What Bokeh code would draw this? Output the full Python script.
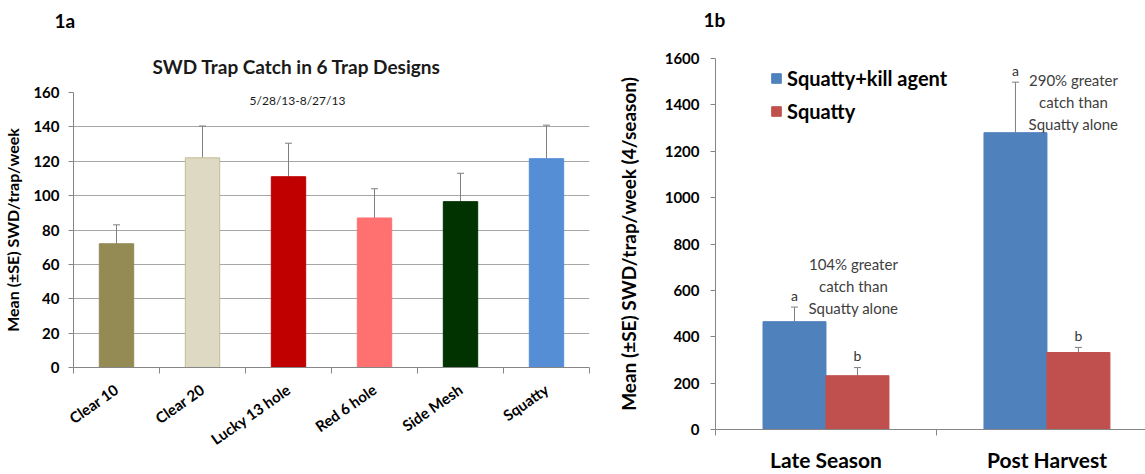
import math
from bokeh.plotting import figure
from bokeh.models import (Range1d, FixedTicker, Whisker, TeeHead, ColumnDataSource,
                          Label, Legend, LegendItem, Title)
from bokeh.layouts import row
from bokeh.embed import file_html
from bokeh.resources import INLINE
from bokeh.core.properties import value

FONT = "Lato"

# ---------------- data: 1a ----------------
designs = ["Clear 10", "Clear 20", "Lucky 13 hole", "Red 6 hole", "Side Mesh", "Squatty"]
design_means = [72, 122, 111, 87, 96.5, 121.5]
design_se = [11, 18.5, 19.5, 17, 16.5, 19.5]
design_colors = ["#948A54", "#DDD9C3", "#C00000", "#FF7171", "#003300", "#558ED5"]
design_edges = ["#948A54", "#C4BD97", "#C00000", "#FF7171", "#003300", "#558ED5"]
y1_ticks = [0, 20, 40, 60, 80, 100, 120, 140, 160]

# ---------------- data: 1b ----------------
seasons = ["Late Season", "Post Harvest"]
kill_means = [465, 1280]
kill_se = [63, 218]
squatty_means = [232, 332]
squatty_se = [35, 22]
kill_letters = ["a", "a"]
squatty_letters = ["b", "b"]
pct_notes = [["104% greater", "catch than", "Squatty alone"],
             ["290% greater", "catch than", "Squatty alone"]]
y2_ticks = [0, 200, 400, 600, 800, 1000, 1200, 1400, 1600]

AXIS_GRAY = "#868686"
GRID_GRAY = "#A6A6A6"
ERR_GRAY = "#7F7F7F"
H = 474

# ================= figure 1a =================
x1 = [i + 0.5 for i in range(len(designs))]
src1 = ColumnDataSource(dict(
    x=x1, top=design_means,
    upper=[m + s for m, s in zip(design_means, design_se)],
    color=design_colors, edge=design_edges))

p1 = figure(width=600, height=H, x_range=Range1d(0, len(designs)), y_range=Range1d(0, 160),
            output_backend="svg", toolbar_location=None, title=None, frame_align=False,
            min_border_left=73, min_border_right=11, min_border_top=90, min_border_bottom=H - 367)
p1.outline_line_color = None
p1.vbar(x="x", top="top", width=0.4, fill_color="color", line_color="edge", source=src1)
p1.add_layout(Whisker(base="x", lower="top", upper="upper", source=src1,
                      line_color=ERR_GRAY, line_width=1,
                      upper_head=TeeHead(size=7, line_color=ERR_GRAY, line_width=1),
                      lower_head=None))

p1.xgrid.visible = False
p1.ygrid.ticker = FixedTicker(ticks=y1_ticks)
p1.ygrid.grid_line_color = GRID_GRAY

p1.yaxis.ticker = FixedTicker(ticks=y1_ticks)
p1.yaxis.axis_line_color = AXIS_GRAY
p1.yaxis.major_tick_line_color = AXIS_GRAY
p1.yaxis.major_tick_out = 5
p1.yaxis.major_tick_in = 0
p1.yaxis.minor_tick_line_color = None
p1.yaxis.major_label_text_font = FONT
p1.yaxis.major_label_text_font_style = "bold"
p1.yaxis.major_label_text_font_size = "15px"
p1.yaxis.major_label_text_color = "black"
p1.yaxis.major_label_standoff = 9
p1.yaxis.axis_label = "Mean (±SE) SWD/trap/week"
p1.yaxis.axis_label_text_font = FONT
p1.yaxis.axis_label_text_font_style = "bold"
p1.yaxis.axis_label_text_font_size = "16px"
p1.yaxis.axis_label_text_color = "black"
p1.yaxis.axis_label_standoff = 8

p1.xaxis.ticker = FixedTicker(ticks=x1, minor_ticks=list(range(len(designs) + 1)))
p1.xaxis.major_label_overrides = {x: n for x, n in zip(x1, designs)}
p1.xaxis.major_label_orientation = math.radians(35)
p1.xaxis.axis_line_color = AXIS_GRAY
p1.xaxis.major_tick_out = 0
p1.xaxis.major_tick_in = 0
p1.xaxis.minor_tick_out = 6
p1.xaxis.minor_tick_in = 0
p1.xaxis.minor_tick_line_color = AXIS_GRAY
p1.xaxis.major_label_text_font = FONT
p1.xaxis.major_label_text_font_style = "bold"
p1.xaxis.major_label_text_font_size = "15px"
p1.xaxis.major_label_text_color = "black"
p1.xaxis.major_label_standoff = 14

p1.add_layout(Title(text="SWD Trap Catch in 6 Trap Designs", align="left", offset=79,
                    standoff=30, text_font=FONT, text_font_style="bold",
                    text_font_size="19px", text_color="#1a1a1a"), "above")
p1.add_layout(Title(text="1a", align="left", offset=-19, standoff=12,
                    text_font=FONT, text_font_style="bold", text_font_size="19px",
                    text_color="black"), "above")
p1.add_layout(Label(x=224, y=267, x_units="screen", y_units="screen",
                    text="5/28/13-8/27/13",
                    text_font=FONT, text_font_size="12px",
                    text_baseline="middle", text_align="center", text_color="#1a1a1a"))

# ================= figure 1b =================
BW = 0.285
x_kill = [i + 0.5 - BW / 2 for i in range(len(seasons))]
x_sq = [i + 0.5 + BW / 2 for i in range(len(seasons))]
src_k = ColumnDataSource(dict(x=x_kill, top=kill_means,
                              upper=[m + s for m, s in zip(kill_means, kill_se)],
                              letter=kill_letters))
src_s = ColumnDataSource(dict(x=x_sq, top=squatty_means,
                              upper=[m + s for m, s in zip(squatty_means, squatty_se)],
                              letter=squatty_letters))

p2 = figure(width=545, height=H, x_range=Range1d(0, 1.946), y_range=Range1d(0, 1600),
            output_backend="svg", toolbar_location=None, title=None, frame_align=False,
            min_border_left=115, min_border_right=0, min_border_top=56, min_border_bottom=H - 429)
p2.outline_line_color = None
r_k = p2.vbar(x="x", top="top", width=BW, fill_color="#4F81BD", line_color="#4F81BD", source=src_k)
r_s = p2.vbar(x="x", top="top", width=BW, fill_color="#C0504D", line_color="#C0504D", source=src_s)
for src in (src_k, src_s):
    p2.add_layout(Whisker(base="x", lower="top", upper="upper", source=src,
                          line_color=ERR_GRAY, line_width=1,
                          upper_head=TeeHead(size=7, line_color=ERR_GRAY, line_width=1),
                          lower_head=None))
    p2.text(x="x", y="upper", text="letter", source=src, text_align="center",
            text_baseline="alphabetic", y_offset=-12, text_font=value(FONT),
            text_font_size="14px", text_color="#333333")

note_pos = [(0.624, 619), (1.62, 1414)]
for (nx, ny), lines in zip(note_pos, pct_notes):
    for k, line in enumerate(lines):
        p2.add_layout(Label(x=nx, y=ny, y_offset=(1 - k) * 22, text=line,
                            text_font=FONT, text_font_size="15px", text_color="#404040",
                            text_align="center", text_baseline="middle"))

p2.xgrid.visible = False
p2.ygrid.ticker = FixedTicker(ticks=[1600])
p2.ygrid.grid_line_color = GRID_GRAY

p2.yaxis.ticker = FixedTicker(ticks=y2_ticks)
p2.yaxis.axis_line_color = AXIS_GRAY
p2.yaxis.major_tick_line_color = AXIS_GRAY
p2.yaxis.major_tick_out = 5
p2.yaxis.major_tick_in = 0
p2.yaxis.minor_tick_line_color = None
p2.yaxis.major_label_text_font = FONT
p2.yaxis.major_label_text_font_style = "bold"
p2.yaxis.major_label_text_font_size = "15px"
p2.yaxis.major_label_text_color = "black"
p2.yaxis.major_label_standoff = 11
p2.yaxis.axis_label = "Mean (±SE) SWD/trap/week (4/season)"
p2.yaxis.axis_label_text_font = FONT
p2.yaxis.axis_label_text_font_style = "bold"
p2.yaxis.axis_label_text_font_size = "19px"
p2.yaxis.axis_label_text_color = "black"
p2.yaxis.axis_label_standoff = 22

x2 = [i + 0.5 for i in range(len(seasons))]
p2.xaxis.ticker = FixedTicker(ticks=x2, minor_ticks=list(range(len(seasons))))
p2.xaxis.major_label_overrides = {x: n for x, n in zip(x2, seasons)}
p2.xaxis.axis_line_color = AXIS_GRAY
p2.xaxis.major_tick_out = 0
p2.xaxis.major_tick_in = 0
p2.xaxis.minor_tick_out = 6
p2.xaxis.minor_tick_in = 0
p2.xaxis.minor_tick_line_color = AXIS_GRAY
p2.xaxis.major_label_text_font = FONT
p2.xaxis.major_label_text_font_style = "bold"
p2.xaxis.major_label_text_font_size = "21px"
p2.xaxis.major_label_text_color = "black"
p2.xaxis.major_label_standoff = 11

legend = Legend(items=[LegendItem(label="Squatty+kill agent", renderers=[r_k]),
                       LegendItem(label="Squatty", renderers=[r_s])],
                location=(55, 306), orientation="vertical",
                glyph_width=12, glyph_height=12, label_height=24, spacing=9,
                label_standoff=5, padding=0, margin=0,
                border_line_color=None, background_fill_alpha=0,
                label_text_font=FONT, label_text_font_style="bold",
                label_text_font_size="20px", label_text_color="black")
p2.add_layout(legend)

p2.add_layout(Title(text="1b\n", align="left", offset=-12, standoff=10,
                    text_font=FONT, text_font_style="bold", text_font_size="19px",
                    text_color="black"), "above")

layout = row(p1, p2, spacing=0)
open("out.html", "w").write(file_html(layout, INLINE))
